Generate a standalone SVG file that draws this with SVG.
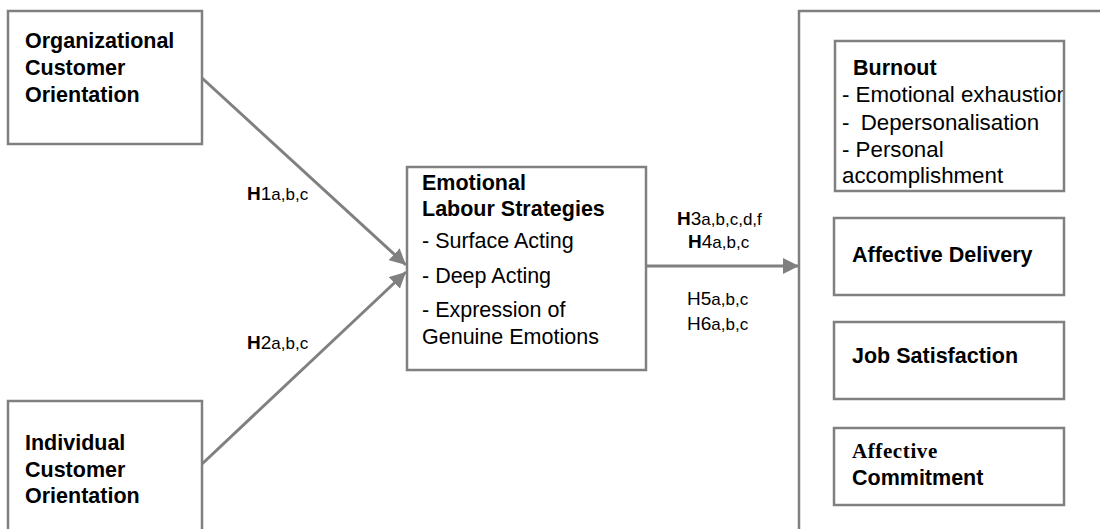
<svg xmlns="http://www.w3.org/2000/svg" width="1100" height="529" viewBox="0 0 1100 529">
<style>
.box{fill:#fff;stroke:#808080;stroke-width:2.5}
.t{font-family:"Liberation Sans",Arial,sans-serif;font-size:21.5px;fill:#000}
.bt{font-family:"Liberation Sans",Arial,sans-serif;font-size:22.3px;fill:#000}
.b{font-weight:bold}
.ser{font-family:"Liberation Serif","Times New Roman",serif;font-weight:bold;font-size:21px;letter-spacing:0.6px}
.h{font-family:"Liberation Sans",Arial,sans-serif;font-size:19px;fill:#000}
.s{font-size:17px}
.conn{stroke:#808080;stroke-width:3;fill:none}
</style>
<defs>
<marker id="ah" viewBox="0 0 16 16" refX="16" refY="8" markerWidth="16" markerHeight="16" markerUnits="userSpaceOnUse" orient="auto">
<path d="M0,0 L16,8 L0,16 z" fill="#808080"/>
</marker>
<clipPath id="bclip"><rect x="836" y="42" width="227" height="148"/></clipPath>
</defs>
<rect width="1100" height="529" fill="#fff"/>

<g id="outcomes">
<rect class="box" x="799" y="11" width="330" height="540"/>
</g>

<g id="org">
<rect class="box" x="8" y="11" width="194" height="133"/>
<text class="t b" x="25" y="48">Organizational</text>
<text class="t b" x="25" y="75">Customer</text>
<text class="t b" x="25" y="102">Orientation</text>
</g>

<g id="ind">
<rect class="box" x="8" y="401" width="194" height="150"/>
<text class="t b" x="25" y="450">Individual</text>
<text class="t b" x="25" y="477">Customer</text>
<text class="t b" x="25" y="503">Orientation</text>
</g>

<g id="els">
<rect class="box" x="407" y="167" width="239" height="203"/>
<text class="t b" x="422" y="190">Emotional</text>
<text class="t b" x="422" y="216">Labour Strategies</text>
<text class="t" x="422" y="248">- Surface Acting</text>
<text class="t" x="422" y="283">- Deep Acting</text>
<text class="t" x="422" y="317">- Expression of</text>
<text class="t" x="422" y="344">Genuine Emotions</text>
</g>

<g id="burnout">
<rect class="box" x="835" y="41" width="229" height="150"/>
<g clip-path="url(#bclip)">
<text class="t b" x="853" y="75">Burnout</text>
<text class="bt" x="842" y="102">- Emotional exhaustion</text>
<text class="bt" x="842" y="130">- <tspan dx="5">Depersonalisation</tspan></text>
<text class="bt" x="842" y="157">- Personal</text>
<text class="bt" x="842" y="183">accomplishment</text>
</g>
</g>

<g id="delivery">
<rect class="box" x="834" y="218" width="230" height="77"/>
<text class="t b" x="852" y="262">Affective Delivery</text>
</g>

<g id="jobsat">
<rect class="box" x="834" y="322" width="230" height="77"/>
<text class="t b" x="852" y="363">Job Satisfaction</text>
</g>

<g id="commit">
<rect class="box" x="834" y="428" width="230" height="77"/>
<text class="ser" x="852" y="458">Affective</text>
<text class="t b" x="852" y="485">Commitment</text>
</g>

<g id="connectors">
<line class="conn" x1="202" y1="78" x2="406" y2="265" marker-end="url(#ah)"/>
<line class="conn" x1="202" y1="464" x2="406" y2="272" marker-end="url(#ah)"/>
<line class="conn" x1="646" y1="266" x2="799" y2="266" marker-end="url(#ah)"/>
</g>

<g id="labels">
<text class="h" x="247" y="200"><tspan font-weight="bold">H</tspan>1<tspan class="s">a,b,c</tspan></text>
<text class="h" x="247" y="349"><tspan font-weight="bold">H</tspan>2<tspan class="s">a,b,c</tspan></text>
<text class="h" x="677" y="225"><tspan font-weight="bold">H</tspan>3<tspan class="s">a,b,c,d,f</tspan></text>
<text class="h" x="688" y="248"><tspan font-weight="bold">H</tspan>4<tspan class="s">a,b,c</tspan></text>
<text class="h" x="687" y="305">H5<tspan class="s">a,b,c</tspan></text>
<text class="h" x="687" y="330">H6<tspan class="s">a,b,c</tspan></text>
</g>
</svg>
